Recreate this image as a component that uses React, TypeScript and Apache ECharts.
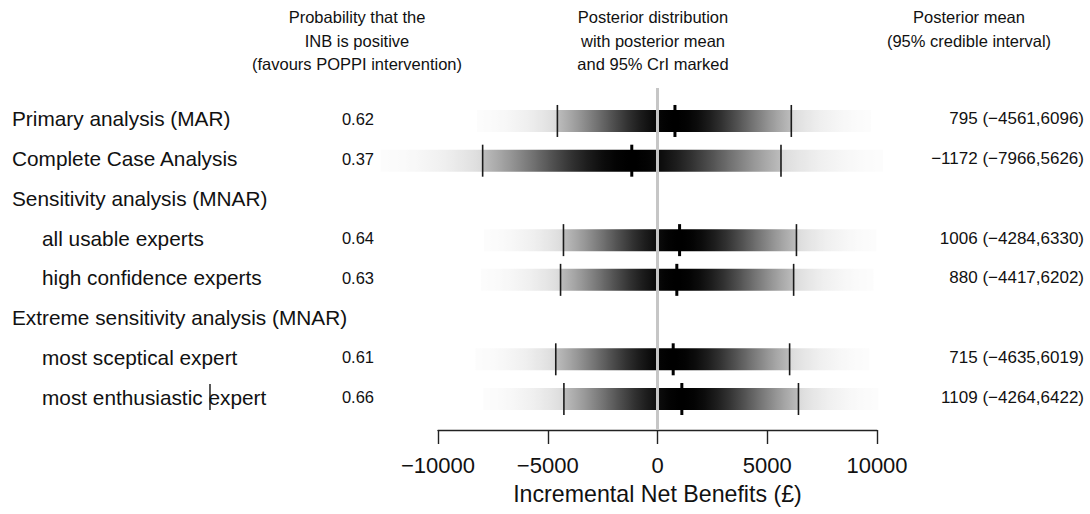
import React, { useEffect, useRef } from "react";
import * as echarts from "echarts";

// ---- data ----
const rowLabels = [
  "Primary analysis (MAR)",
  "Complete Case Analysis",
  "Sensitivity analysis (MNAR)",
  "all usable experts",
  "high confidence experts",
  "Extreme sensitivity analysis (MNAR)",
  "most sceptical expert",
  "most enthusiastic expert",
];
const rowIndented = [false, false, false, true, true, false, true, true];
const probPositive: (number | null)[] = [0.62, 0.37, null, 0.64, 0.63, null, 0.61, 0.66];
const postMean: (number | null)[] = [795, -1172, null, 1006, 880, null, 715, 1109];
const ciLower: (number | null)[] = [-4561, -7966, null, -4284, -4417, null, -4635, -4264];
const ciUpper: (number | null)[] = [6096, 5626, null, 6330, 6202, null, 6019, 6422];

const headerProbability = ["Probability that the", "INB is positive", "(favours POPPI intervention)"];
const headerDistribution = ["Posterior distribution", "with posterior mean", "and 95% CrI marked"];
const headerMean = ["Posterior mean", "(95% credible interval)"];
const xTickValues = [-10000, -5000, 0, 5000, 10000];
const axisTitle = "Incremental Net Benefits (£)";

// ---- helpers ----
const FONT = '"Liberation Sans", Arial, Helvetica, sans-serif';
const TAIL = 3.3;
const fmt = (v: number) => (v < 0 ? "\u2212" + Math.abs(v) : String(v));
const R_CI = Math.exp(-(1.96 * 1.96) / 2);

function grey(d: number) {
  const g = Math.max(0, Math.min(255, Math.round(255 * (1 - d))));
  return `rgb(${g},${g},${g})`;
}

function stripColor(v: number, mean: number, sdL: number, sdR: number, inside: boolean) {
  const z = v < mean ? (v - mean) / sdL : (v - mean) / sdR;
  const r = Math.exp(-(z * z) / 2);
  const d = inside ? Math.pow(r, 0.7) : 0.145 * Math.pow(r / R_CI, 0.75);
  return grey(d);
}

function buildStops(mean: number, lo: number, hi: number) {
  const sdL = (mean - lo) / 1.96;
  const sdR = (hi - mean) / 1.96;
  const vmin = mean - TAIL * sdL;
  const vmax = mean + TAIL * sdR;
  const span = vmax - vmin;
  const off = (v: number) => (v - vmin) / span;
  const stops: { offset: number; color: string }[] = [];
  const seg = (a: number, b: number, n: number, inside: boolean) => {
    for (let k = 0; k <= n; k++) {
      const v = a + ((b - a) * k) / n;
      stops.push({ offset: off(v), color: stripColor(v, mean, sdL, sdR, inside) });
    }
  };
  seg(vmin, lo, 30, false);
  seg(lo, mean, 40, true);
  seg(mean, hi, 40, true);
  seg(hi, vmax, 30, false);
  return { vmin, vmax, stops };
}

export default function App() {
  const ref = useRef<HTMLDivElement>(null);

  useEffect(() => {
    if (!ref.current) return;
    const chart = echarts.init(ref.current, undefined, { renderer: "svg" });

    const headerText = (t: string, x: number, k: number) => ({
      type: "text",
      x,
      y: 17 + k * 23.5,
      style: { text: t, fontSize: 16.5, fontFamily: FONT, fill: "#111", align: "center", verticalAlign: "middle" },
    });
    const graphic: any[] = [];
    headerProbability.forEach((t, k) => graphic.push(headerText(t, 357, k)));
    headerDistribution.forEach((t, k) => graphic.push(headerText(t, 653, k)));
    headerMean.forEach((t, k) => graphic.push(headerText(t, 969, k)));
    // text cursor artefact present in the reference screenshot
    graphic.push({
      type: "line",
      shape: { x1: 210, y1: 384, x2: 210, y2: 410 },
      style: { stroke: "#000", lineWidth: 1.3 },
    });

    const renderItem = (params: any, api: any) => {
      const i = api.value(1);
      const yc = api.coord([0, i])[1];
      const children: any[] = [];
      children.push({
        type: "text",
        style: {
          text: rowLabels[i],
          x: rowIndented[i] ? 42 : 12,
          y: yc - 2,
          fontSize: 20.8,
          fontFamily: FONT,
          fill: "#111",
          align: "left",
          verticalAlign: "middle",
        },
      });
      const m = postMean[i];
      const lo = ciLower[i];
      const hi = ciUpper[i];
      if (m !== null && lo !== null && hi !== null) {
        const { vmin, vmax, stops } = buildStops(m, lo, hi);
        const x0 = api.coord([vmin, i])[0];
        const x1 = api.coord([vmax, i])[0];
        children.push({
          type: "rect",
          shape: { x: x0, y: yc - 11, width: x1 - x0, height: 22 },
          style: { fill: new echarts.graphic.LinearGradient(0, 0, 1, 0, stops) },
        });
        const xl = api.coord([lo, i])[0];
        const xh = api.coord([hi, i])[0];
        const xm = api.coord([m, i])[0];
        [xl, xh].forEach((x) =>
          children.push({
            type: "line",
            shape: { x1: x, y1: yc - 16, x2: x, y2: yc + 16 },
            style: { stroke: "#1a1a1a", lineWidth: 1.6 },
          })
        );
        children.push({
          type: "line",
          shape: { x1: xm, y1: yc - 16, x2: xm, y2: yc + 16 },
          style: { stroke: "#000", lineWidth: 3 },
        });
        children.push({
          type: "text",
          style: {
            text: (probPositive[i] as number).toFixed(2),
            x: 374,
            y: yc - 2,
            fontSize: 16.5,
            fontFamily: FONT,
            fill: "#111",
            align: "right",
            verticalAlign: "middle",
          },
        });
        children.push({
          type: "text",
          style: {
            text: `${fmt(m)} (${fmt(lo)},${fmt(hi)})`,
            x: 1084,
            y: yc - 2,
            fontSize: 17,
            fontFamily: FONT,
            fill: "#111",
            align: "right",
            verticalAlign: "middle",
          },
        });
      }
      return { type: "group", children };
    };

    chart.setOption({
      animation: false,
      backgroundColor: "#fff",
      textStyle: { fontFamily: FONT },
      grid: { left: 438, right: 213, top: 88, bottom: 84, containLabel: false },
      xAxis: {
        type: "value",
        min: xTickValues[0],
        max: xTickValues[xTickValues.length - 1],
        interval: 5000,
        splitLine: { show: false },
        axisLine: { show: true, onZero: false, lineStyle: { color: "#222", width: 1.4 } },
        axisTick: { show: true, inside: false, length: 14, lineStyle: { color: "#222", width: 1.4 } },
        axisLabel: {
          margin: 24,
          fontSize: 22,
          color: "#111",
          fontFamily: FONT,
          formatter: (v: number) => fmt(v),
        },
        name: axisTitle,
        nameLocation: "middle",
        nameGap: 52,
        nameTextStyle: { fontSize: 23.2, color: "#111", fontFamily: FONT },
      },
      yAxis: {
        type: "value",
        min: -0.83,
        max: 7.78,
        inverse: true,
        show: false,
        splitLine: { show: false },
      },
      graphic,
      series: [
        {
          type: "custom",
          clip: false,
          silent: true,
          renderItem,
          data: rowLabels.map((_, i) => [postMean[i] ?? 0, i]),
          z: 2,
        },
        {
          type: "line",
          silent: true,
          symbol: "none",
          data: [
            [0, -0.83],
            [0, 7.78],
          ],
          lineStyle: { color: "#c6c6c6", width: 3 },
          z: 3,
        },
      ],
    });

    return () => chart.dispose();
  }, []);

  return (
    <div
      ref={ref}
      style={{ position: "fixed", left: 0, top: 0, width: 1090, height: 514, background: "#fff" }}
    />
  );
}
